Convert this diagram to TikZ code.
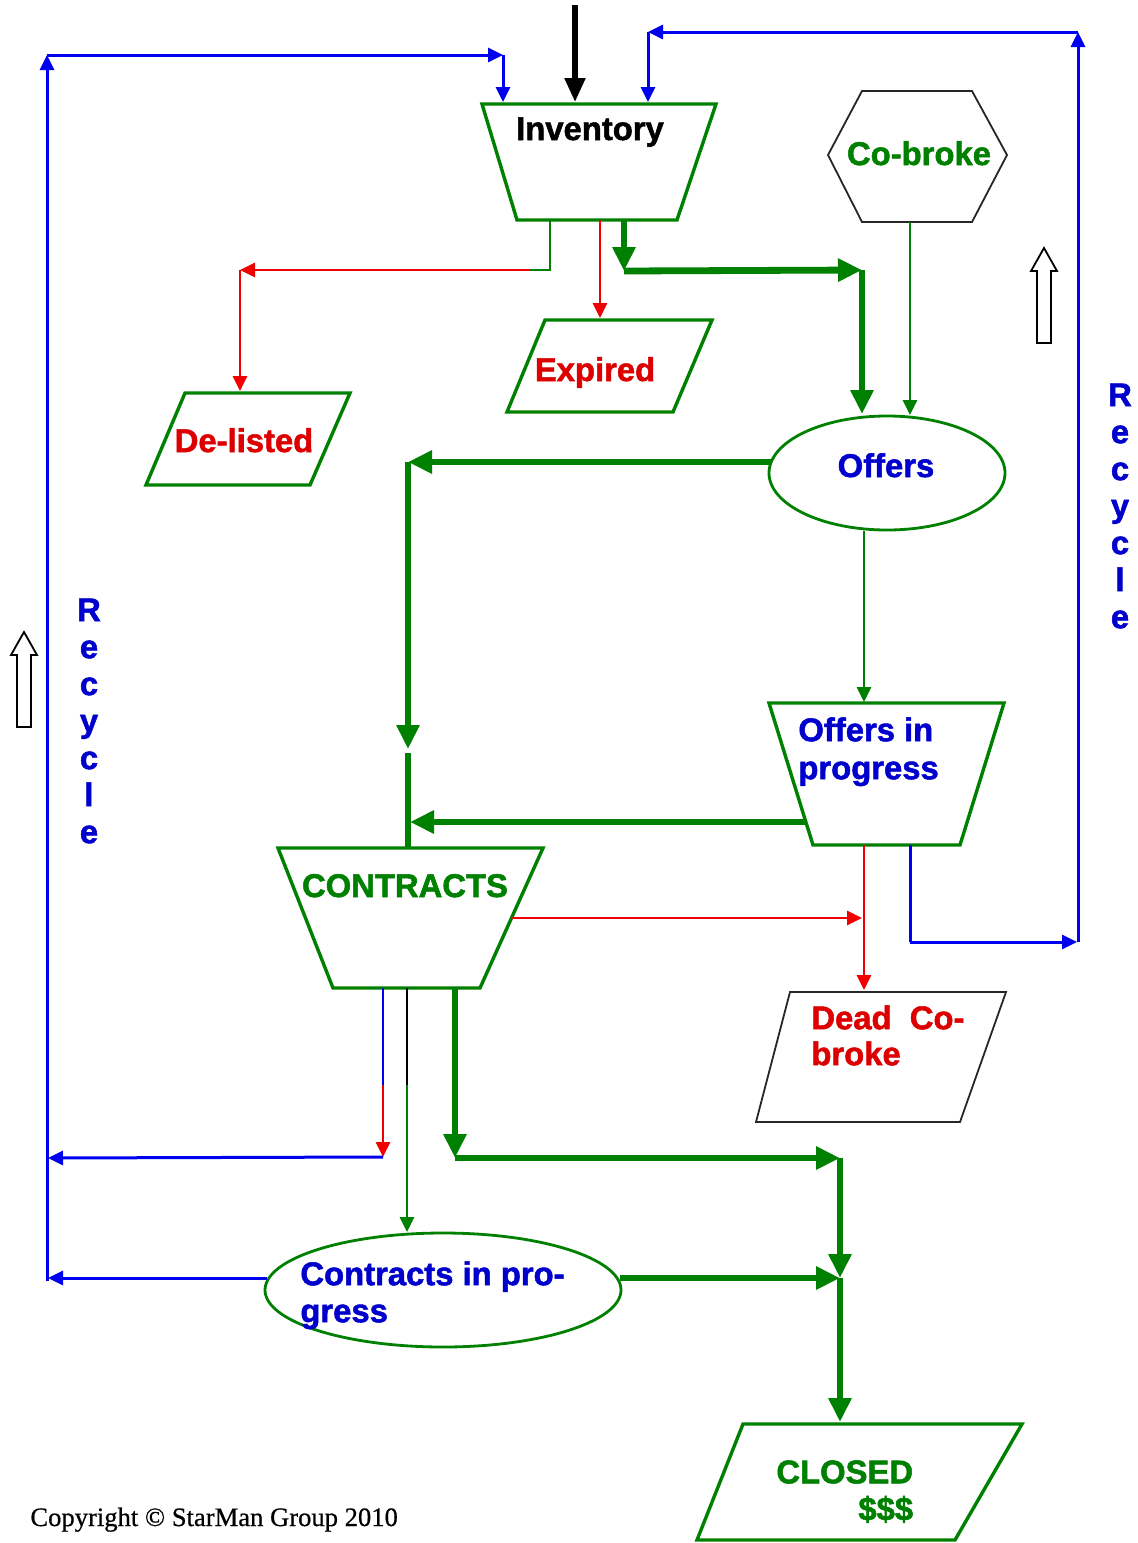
\documentclass[tikz,border=0pt]{standalone}
\usepackage{fontspec}
\setmainfont{Liberation Sans}[BoldFeatures={FakeBold=1.6}]
\newfontfamily\copyfont{Liberation Serif}[FakeBold=0.6]
\usetikzlibrary{arrows.meta}
\definecolor{fgreen}{RGB}{0,128,0}
\definecolor{fred}{RGB}{240,0,0}
\definecolor{tred}{RGB}{220,0,0}
\definecolor{fblue}{RGB}{0,0,240}
\definecolor{tblue}{RGB}{0,0,205}
\begin{document}
\begin{tikzpicture}[x=0.5pt,y=-0.5pt,
  gshape/.style={draw=fgreen,line width=1.7pt,line join=miter},
  kshape/.style={draw=black!85,line width=0.9pt,line join=miter},
  lbl/.style={font=\fontsize{16.4}{19}\selectfont\bfseries,inner sep=0pt},
  vlbl/.style={font=\fontsize{16.4}{18.5}\selectfont\bfseries,inner sep=0pt,align=center,text=tblue},
  thinln/.style={line width=1.4pt},
  thickln/.style={line width=3.4pt,fgreen},
  tipS/.style={-{Triangle[length=7.5pt,width=7pt]}},
  tipL/.style={-{Triangle[length=12pt,width=11pt]}},
  hollow/.style={draw=black,line width=0.9pt,fill=white},
]
\useasboundingbox (0,0) rectangle (1138,1543);

% ---------- shape corner coordinates ----------
\coordinate (i1) at (482,104); \coordinate (i2) at (716,104);
\coordinate (i3) at (677,220); \coordinate (i4) at (517,220);
\coordinate (e1) at (545,320); \coordinate (e2) at (712,320);
\coordinate (e3) at (673,412); \coordinate (e4) at (507,412);
\coordinate (d1) at (185,393); \coordinate (d2) at (350,393);
\coordinate (d3) at (310,485); \coordinate (d4) at (146,485);
\coordinate (p1) at (769,703); \coordinate (p2) at (1004,703);
\coordinate (p3) at (960,845); \coordinate (p4) at (813,845);
\coordinate (c1) at (278,848); \coordinate (c2) at (543,848);
\coordinate (c3) at (480,988); \coordinate (c4) at (333,988);
\coordinate (k1) at (790,992); \coordinate (k2) at (1006,992);
\coordinate (k3) at (960,1122); \coordinate (k4) at (756,1122);
\coordinate (s1) at (743,1424); \coordinate (s2) at (1022,1424);
\coordinate (s3) at (955,1540); \coordinate (s4) at (697,1540);

% ---------- shapes ----------
\draw[gshape] (i1) -- (i2) -- (i3) -- (i4) -- cycle;
\draw[gshape] (e1) -- (e2) -- (e3) -- (e4) -- cycle;
\draw[gshape] (d1) -- (d2) -- (d3) -- (d4) -- cycle;
\draw[gshape] (p1) -- (p2) -- (p3) -- (p4) -- cycle;
\draw[gshape] (c1) -- (c2) -- (c3) -- (c4) -- cycle;
\draw[kshape] (k1) -- (k2) -- (k3) -- (k4) -- cycle;
\draw[gshape] (s1) -- (s2) -- (s3) -- (s4) -- cycle;
\draw[kshape] (828,155) -- (862,91) -- (972,91) -- (1007,155) -- (972,222) -- (862,222) -- cycle;
\draw[draw=fgreen,line width=1.4pt] (887,473) ellipse [x radius=118,y radius=57];
\draw[draw=fgreen,line width=1.4pt] (443,1290) ellipse [x radius=178,y radius=57];

% ---------- labels ----------
\node[lbl,anchor=base,text=black] (inv) at (590,140) {Inventory};
\node[lbl,anchor=base,text=fgreen] (cob) at (919,165) {Co-broke};
\node[lbl,anchor=base,text=tred] (exp) at (595,381) {Expired};
\node[lbl,anchor=base,text=tred] (del) at (244,452) {De-listed};
\node[lbl,anchor=base,text=tblue] (off) at (886,477) {Offers};
\node[lbl,anchor=north west,align=left,text=tblue] (oip) at (798,717) {Offers in\\progress};
\node[lbl,anchor=base,text=fgreen] (con) at (405,897) {CONTRACTS};
\node[lbl,anchor=north west,align=left,text=tred,font=\fontsize{16.4}{18}\selectfont\bfseries] (dcb) at (811,1005) {Dead\ \ Co-\\broke};
\node[lbl,anchor=north west,align=left,text=tblue,font=\fontsize{16.4}{18.5}\selectfont\bfseries] (cip) at (300,1261) {Contracts in pro-\\gress};
\node[lbl,anchor=north west,align=left,text=fgreen,font=\fontsize{16.4}{18.5}\selectfont\bfseries] (clo) at (776,1460) {CLOSED\\\hspace*{41pt}\$\$\$};
\node[vlbl] (recl) at (89,721) {R\\e\\c\\y\\c\\l\\e};
\node[vlbl] (recr) at (1120,506) {R\\e\\c\\y\\c\\l\\e};
\node[anchor=base west,inner sep=0pt,font=\copyfont\fontsize{13.3}{15}\selectfont] (copy) at (30,1526) {Copyright \textcopyright\ StarMan Group 2010};

% ---------- hollow arrows ----------
\draw[hollow] (17,727) -- (17,655) -- (11,655) -- (24,632) -- (37,655) -- (31,655) -- (31,727) -- cycle;
\draw[hollow] (1037,343) -- (1037,271) -- (1031,271) -- (1044,248) -- (1057,271) -- (1051,271) -- (1051,343) -- cycle;

% ---------- connector points ----------
\coordinate (top) at (575,5);
\coordinate (invIn) at (575,102);
\coordinate (lbTop) at (47,55);
\coordinate (lbBot) at (47,1281);
\coordinate (invInL) at (503,55);
\coordinate (invInLb) at (503,102);
\coordinate (rbTop) at (1078,32);
\coordinate (rbBot) at (1078,942);
\coordinate (invInR) at (648,32);
\coordinate (invInRb) at (648,102);
\coordinate (invG) at (550,220);
\coordinate (invGc) at (550,270);
\coordinate (invGr) at (530,270);
\coordinate (delC) at (240,270);
\coordinate (delIn) at (240,391);
\coordinate (invR) at (600,220);
\coordinate (expIn) at (600,318);
\coordinate (invT) at (624,220);
\coordinate (invTc) at (624,271);
\coordinate (offC) at (862,270);
\coordinate (offIn) at (862,414);
\coordinate (cobOut) at (910,222);
\coordinate (cobIn) at (910,415);
\coordinate (offL) at (771,462);
\coordinate (conC) at (408,462);
\coordinate (conArr) at (408,749);
\coordinate (conRe) at (408,753);
\coordinate (conTop) at (408,849);
\coordinate (offB) at (864,531);
\coordinate (oipIn) at (864,702);
\coordinate (oipL) at (805,822);
\coordinate (conJ) at (410,822);
\coordinate (oipB) at (864,845);
\coordinate (dcbIn) at (864,990);
\coordinate (conR) at (512,918);
\coordinate (redJ) at (862,918);
\coordinate (oipBb) at (910,845);
\coordinate (oipBc) at (910,942);
\coordinate (rbIn) at (1077,942);
\coordinate (conB1) at (383,988);
\coordinate (conB1m) at (383,1085);
\coordinate (conB1e) at (383,1157);
\coordinate (lbJ1) at (48,1158);
\coordinate (conB2) at (407,988);
\coordinate (conB2m) at (407,1085);
\coordinate (cipIn) at (407,1232);
\coordinate (conB3) at (455,988);
\coordinate (conB3c) at (455,1158);
\coordinate (cloC) at (840,1158);
\coordinate (cloJ) at (840,1278);
\coordinate (cipL) at (267,1278);
\coordinate (lbJ2) at (48,1278);
\coordinate (cipR) at (620,1278);
\coordinate (cloIn) at (840,1422);

% ---------- connectors ----------
\draw[line width=2.6pt,black,-{Triangle[length=12pt,width=10pt]}] (top) -- (invIn);
% left recycle loop
\draw[thinln,fblue,line width=1.5pt,tipS] (lbBot) -- (lbTop);
\draw[thinln,fblue,line width=1.5pt,tipS] (lbTop) -- (invInL);
\draw[thinln,fblue,line width=1.5pt,tipS] (invInL) -- (invInLb);
% right recycle loop
\draw[thinln,fblue,line width=1.5pt] (oipBb) -- (oipBc);
\draw[thinln,fblue,line width=1.5pt,tipS] (oipBc) -- (rbIn);
\draw[thinln,fblue,line width=1.5pt,tipS] (rbBot) -- (rbTop);
\draw[thinln,fblue,line width=1.5pt,tipS] (rbTop) -- (invInR);
\draw[thinln,fblue,line width=1.5pt,tipS] (invInR) -- (invInRb);
% inventory outputs
\draw[thinln,fgreen] (invG) -- (invGc) -- (invGr);
\draw[thinln,fred,tipS] (invGr) -- (delC);
\draw[thinln,fred,tipS] (delC) -- (delIn);
\draw[thinln,fred,tipS] (invR) -- (expIn);
\draw[thickln,tipL] (invT) -- (invTc);
\draw[thickln,tipL] (invTc) -- (offC);
\draw[thickln,tipL] (offC) -- (offIn);
\draw[thinln,fgreen,tipS] (cobOut) -- (cobIn);
% offers
\draw[thickln,tipL] (offL) -- (conC);
\draw[thickln,tipL] (conC) -- (conArr);
\draw[thickln] (conRe) -- (conTop);
\draw[thinln,fgreen,tipS] (offB) -- (oipIn);
\draw[thickln,tipL] (oipL) -- (conJ);
\draw[thinln,fred,tipS] (oipB) -- (dcbIn);
\draw[thinln,fred,tipS] (conR) -- (redJ);
% contracts outputs
\draw[thinln,fblue] (conB1) -- (conB1m);
\draw[thinln,fred,tipS] (conB1m) -- (conB1e);
\draw[thinln,fblue,line width=1.5pt,tipS] (conB1e) -- (lbJ1);
\draw[thinln,black,line width=0.9pt] (conB2) -- (conB2m);
\draw[thinln,fgreen,tipS] (conB2m) -- (cipIn);
\draw[thickln,tipL] (conB3) -- (conB3c);
\draw[thickln,tipL] (conB3c) -- (cloC);
\draw[thickln,tipL] (cloC) -- (cloJ);
\draw[thinln,fblue,line width=1.5pt,tipS] (cipL) -- (lbJ2);
\draw[thickln,tipL] (cipR) -- (cloJ);
\draw[thickln,tipL] (cloJ) -- (cloIn);
\end{tikzpicture}
\end{document}
